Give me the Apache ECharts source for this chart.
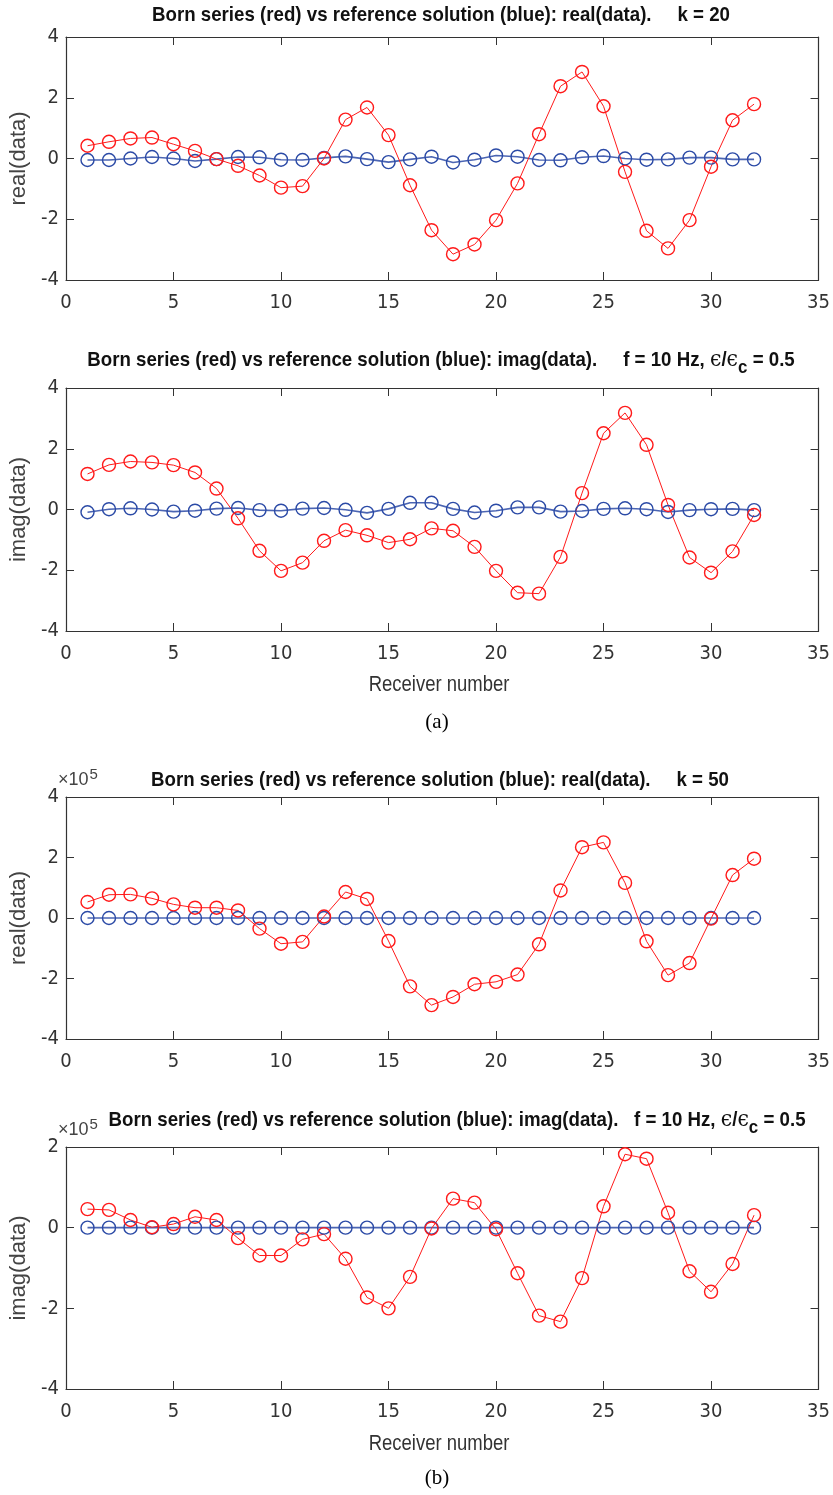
<!DOCTYPE html>
<html>
<head>
<meta charset="utf-8">
<script src="https://cdn.jsdelivr.net/npm/echarts@6/dist/echarts.min.js"></script>
<style>
  html, body { margin: 0; padding: 0; background: #fff; }
  #chart { width: 833px; height: 1495px; }
</style>
</head>
<body>
<div id="chart"></div>
<script>
// Receiver indices along the array
const receivers = [1, 2, 3, 4, 5, 6, 7, 8, 9, 10, 11, 12, 13, 14, 15, 16,
                   17, 18, 19, 20, 21, 22, 23, 24, 25, 26, 27, 28, 29, 30, 31, 32];

// (a) k = 20 : Born series vs reference solution
const bornRealK20 = [0.42, 0.55, 0.66, 0.69, 0.47, 0.25, -0.02, -0.24, -0.56, -0.96, -0.91, 0.0,
                     1.28, 1.68, 0.77, -0.88, -2.36, -3.15, -2.83, -2.03, -0.82, 0.80, 2.38, 2.85,
                     1.72, -0.44, -2.38, -2.96, -2.03, -0.27, 1.26, 1.79];
const refRealK20  = [-0.05, -0.05, 0.0, 0.05, 0.0, -0.08, -0.02, 0.05, 0.04, -0.04, -0.05, 0.02,
                     0.07, -0.02, -0.12, -0.03, 0.06, -0.13, -0.04, 0.10, 0.06, -0.05, -0.06, 0.04,
                     0.08, 0.0, -0.04, -0.03, 0.03, 0.03, -0.03, -0.03];
const bornImagK20 = [1.17, 1.47, 1.58, 1.55, 1.46, 1.22, 0.69, -0.29, -1.36, -2.02, -1.75, -1.03,
                     -0.68, -0.85, -1.09, -0.98, -0.62, -0.70, -1.23, -2.02, -2.74, -2.77, -1.56, 0.54,
                     2.51, 3.18, 2.13, 0.15, -1.58, -2.08, -1.38, -0.18];
const refImagK20  = [-0.09, 0.01, 0.04, 0.0, -0.07, -0.04, 0.03, 0.05, -0.02, -0.04, 0.03, 0.05,
                     -0.01, -0.11, 0.02, 0.22, 0.22, 0.02, -0.10, -0.04, 0.07, 0.07, -0.07, -0.05,
                     0.02, 0.04, 0.01, -0.08, -0.02, 0.01, 0.02, -0.02];

// (b) k = 50 : values in units of 1e5
const bornRealK50 = [0.53, 0.77, 0.78, 0.65, 0.45, 0.34, 0.34, 0.25, -0.35, -0.85, -0.79, 0.05,
                     0.86, 0.63, -0.76, -2.26, -2.88, -2.61, -2.19, -2.11, -1.87, -0.87, 0.91, 2.34,
                     2.50, 1.16, -0.77, -1.89, -1.49, -0.02, 1.42, 1.96];
const refRealK50  = [0, 0, 0, 0, 0, 0, 0, 0, 0, 0, 0, 0, 0, 0, 0, 0,
                     0, 0, 0, 0, 0, 0, 0, 0, 0, 0, 0, 0, 0, 0, 0, 0];
const bornImagK50 = [0.46, 0.44, 0.19, 0.01, 0.09, 0.27, 0.19, -0.26, -0.69, -0.69, -0.29, -0.16,
                     -0.77, -1.73, -2.00, -1.22, -0.02, 0.72, 0.62, -0.04, -1.13, -2.18, -2.33, -1.25,
                     0.53, 1.82, 1.71, 0.37, -1.08, -1.59, -0.90, 0.31];
const refImagK50  = [0, 0, 0, 0, 0, 0, 0, 0, 0, 0, 0, 0, 0, 0, 0, 0,
                     0, 0, 0, 0, 0, 0, 0, 0, 0, 0, 0, 0, 0, 0, 0, 0];

// Axis ranges and labels
const xRange = { min: 0, max: 35, interval: 5 };
const yRanges = [
  { min: -4, max: 4, interval: 2 },
  { min: -4, max: 4, interval: 2 },
  { min: -4, max: 4, interval: 2 },
  { min: -4, max: 2, interval: 2 }
];
const yNames = ['real(data)', 'imag(data)', 'real(data)', 'imag(data)'];
const xName = 'Receiver number';
const scaleExponent = '5';
const titles = [
  'Born series (red) vs reference solution (blue): real(data).     k = 20',
  'Born series (red) vs reference solution (blue): imag(data).     f = 10 Hz, {eps|ϵ}/{eps|ϵ}{sub|c} = 0.5',
  'Born series (red) vs reference solution (blue): real(data).     k = 50',
  'Born series (red) vs reference solution (blue): imag(data).   f = 10 Hz, {eps|ϵ}/{eps|ϵ}{sub|c} = 0.5'
];
const captions = ['(a)', '(b)'];

const panels = [
  { born: bornRealK20, ref: refRealK20 },
  { born: bornImagK20, ref: refImagK20 },
  { born: bornRealK50, ref: refRealK50 },
  { born: bornImagK50, ref: refImagK50 }
];

// Layout
const NARROW = "'Liberation Sans Narrow', 'DejaVu Sans Condensed', sans-serif";
const SANS = "'Liberation Sans', Arial, Helvetica, sans-serif";
const AXIS_COLOR = '#333333';
const RED = '#ff1a1a';
const BLUE = '#2b4aa6';
const gridBoxes = [
  { top: 37, height: 243 },
  { top: 388, height: 243 },
  { top: 797, height: 242 },
  { top: 1147, height: 242 }
];
const GRID_LEFT = 57, GRID_WIDTH = 764;
const titleMid = [15, 360, 780, 1120];
const titleCenters = [441, 441, 440, 457];
const TITLE_SQUEEZE = 0.89;
const xNameMid = { 1: 685, 3: 1444 };

const pairs = vals => vals.map((v, i) => [receivers[i], v]);

const grid = [], xAxis = [], yAxis = [], series = [], graphic = [];

panels.forEach((p, k) => {
  grid.push({ left: GRID_LEFT, width: GRID_WIDTH, top: gridBoxes[k].top, height: gridBoxes[k].height, containLabel: false });

  const tick = { show: true, inside: true, length: 8, lineStyle: { color: AXIS_COLOR, width: 1 } };
  const line = { show: true, onZero: false, lineStyle: { color: AXIS_COLOR, width: 1.2 } };
  const label = { color: AXIS_COLOR, fontSize: 20, fontFamily: NARROW };

  xAxis.push({
    gridIndex: k, type: 'value', position: 'bottom', ...xRange,
    axisLine: line, axisTick: tick, splitLine: { show: false },
    axisLabel: { ...label, margin: 13 }
  });
  xAxis.push({
    gridIndex: k, type: 'value', position: 'top', ...xRange,
    axisLine: line, axisTick: tick, splitLine: { show: false }, axisLabel: { show: false }
  });
  yAxis.push({
    gridIndex: k, type: 'value', position: 'left', ...yRanges[k],
    axisLine: line, axisTick: tick, splitLine: { show: false },
    axisLabel: { ...label, margin: 7 },
    name: yNames[k], nameLocation: 'middle', nameGap: 36, nameRotate: 90,
    nameTextStyle: { color: '#444', fontSize: 22, fontFamily: SANS }
  });
  yAxis.push({
    gridIndex: k, type: 'value', position: 'right', ...yRanges[k],
    axisLine: line, axisTick: tick, splitLine: { show: false }, axisLabel: { show: false }
  });

  const common = {
    type: 'line', xAxisIndex: 2 * k, yAxisIndex: 2 * k,
    symbol: 'circle', symbolSize: 13, animation: false, silent: true
  };
  series.push({
    ...common, data: pairs(p.ref),
    lineStyle: { color: BLUE, width: 1.6, opacity: 0.85 },
    itemStyle: { color: 'rgba(0,0,0,0)', borderColor: BLUE, borderWidth: 1.4 }
  });
  series.push({
    ...common, data: pairs(p.born),
    lineStyle: { color: RED, width: 1 },
    itemStyle: { color: 'rgba(0,0,0,0)', borderColor: RED, borderWidth: 1.4 }
  });

  // Panel title, set in a condensed bold face
  graphic.push({
    type: 'text', x: titleCenters[k], y: titleMid[k], scaleX: TITLE_SQUEEZE, z: 10,
    style: {
      text: titles[k], align: 'center', verticalAlign: 'middle',
      fill: '#111', fontSize: 21, fontWeight: 'bold', fontFamily: SANS,
      rich: {
        eps: { fill: '#111', fontSize: 23, fontWeight: 'normal', fontFamily: "'DejaVu Serif', serif" },
        sub: { fill: '#111', fontSize: 19, fontWeight: 'bold', fontFamily: SANS, padding: [15, 0, 0, 0] }
      }
    }
  });

  if (xNameMid[k] !== undefined) {
    graphic.push({
      type: 'text', x: GRID_LEFT + GRID_WIDTH / 2, y: xNameMid[k], scaleX: 0.84,
      style: { text: xName, align: 'center', verticalAlign: 'middle', fill: AXIS_COLOR, fontSize: 22, fontFamily: SANS }
    });
  }
});

// Exponent markers for the scaled panels
[2, 3].forEach(k => {
  graphic.push({
    type: 'text', x: GRID_LEFT + 1, y: gridBoxes[k].top - 3,
    style: {
      text: '×10{sup|' + scaleExponent + '}', verticalAlign: 'bottom',
      fill: '#444', fontSize: 18, fontFamily: SANS,
      rich: { sup: { fontSize: 15, fill: '#444', fontFamily: SANS, padding: [0, 0, 12, 1] } }
    }
  });
});

// Panel captions
const captionMid = [722, 1478];
captions.forEach((c, i) => {
  graphic.push({
    type: 'text', x: 437, y: captionMid[i],
    style: { text: c, fill: '#000', fontSize: 21, fontFamily: "'Liberation Serif', 'Times New Roman', serif", align: 'center', verticalAlign: 'middle' }
  });
});

const chart = echarts.init(document.getElementById('chart'), null, { renderer: 'canvas' });
chart.setOption({ animation: false, backgroundColor: '#fff', grid, xAxis, yAxis, series, graphic });
</script>
</body>
</html>
